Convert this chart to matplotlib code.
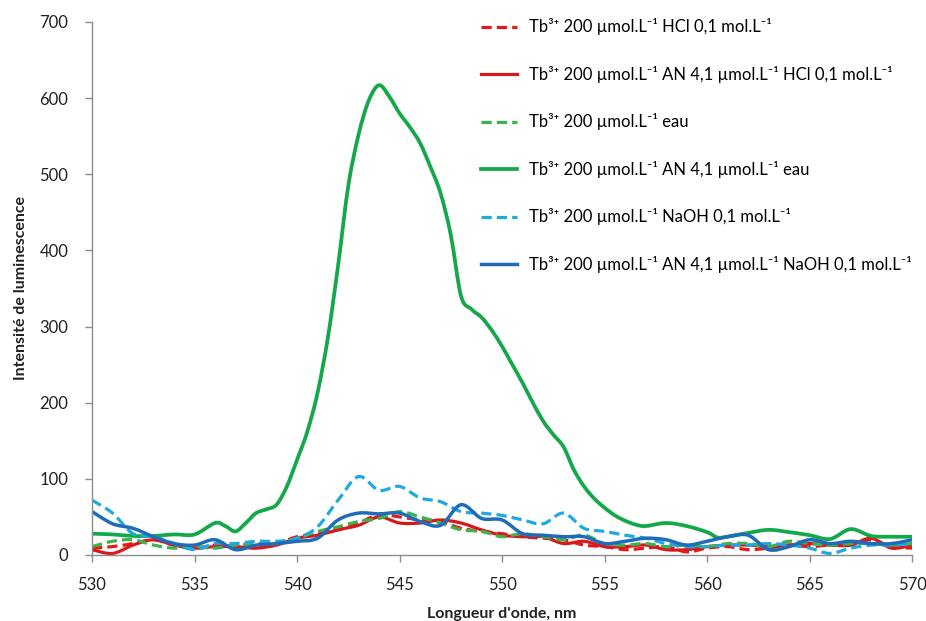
import matplotlib.pyplot as plt
from matplotlib.path import Path
from matplotlib.patches import PathPatch

plt.rcParams['font.family'] = ['Lato', 'DejaVu Sans']

# Longueurs d'onde (nm) et intensités lues pour chaque spectre
wl = list(range(530, 571))

hcl = [9, 11, 15, 20, 13, 9, 13, 11, 11, 15, 24, 28, 33, 42, 53, 50, 46, 44, 35, 31,
       28, 24, 22, 20, 13, 11, 7, 9, 11, 4, 9, 11, 7, 9, 13, 11, 13, 13, 20, 11, 9]
an_hcl = [7, 2, 13, 20, 13, 9, 11, 11, 9, 13, 22, 26, 33, 39, 50, 42, 42, 46, 42, 33,
          26, 24, 24, 15, 18, 11, 11, 13, 7, 7, 11, 13, 13, 11, 13, 15, 13, 13, 22, 9, 13]
eau = [11, 18, 20, 13, 9, 11, 9, 13, 15, 15, 22, 31, 37, 44, 48, 57, 50, 42, 33, 31,
       24, 28, 24, 20, 26, 15, 13, 15, 11, 13, 11, 15, 15, 11, 18, 15, 13, 15, 15, 13, 15]
naoh = [72, 55, 28, 24, 15, 7, 15, 15, 18, 18, 22, 37, 72, 103, 85, 90, 75, 70, 57, 55,
        52, 46, 41, 55, 35, 31, 26, 22, 15, 11, 11, 13, 13, 15, 13, 9, 2, 9, 13, 13, 15]
an_naoh = [57, 41, 35, 24, 15, 13, 20, 7, 13, 15, 18, 22, 46, 55, 54, 55, 44, 39, 66, 48,
           46, 28, 26, 24, 24, 15, 18, 22, 20, 13, 18, 24, 26, 7, 11, 20, 15, 18, 15, 15, 20]

wl_an_eau = [530, 531, 532, 533, 534, 535, 536, 536.5, 537, 537.5, 538, 538.5, 539, 539.5,
             540, 540.5, 541, 541.5, 542, 542.5, 543, 543.5, 544, 544.5, 545, 545.5,
             546, 546.5, 547, 547.5, 548, 548.5, 549, 549.5, 550, 550.5, 551, 551.5,
             552, 552.5, 553, 553.5, 554, 554.5, 555, 555.5, 556, 556.5, 557, 558,
             559, 560, 560.5, 561, 562, 563, 564, 565, 566, 567, 568, 569, 570]
an_eau = [28, 27, 25, 25, 27, 27, 42, 38, 31, 42, 55, 60, 66, 90,
          125, 162, 213, 285, 380, 485, 552, 597, 617, 602, 580, 562,
          541, 510, 475, 420, 340, 323, 312, 295, 274, 250, 226, 200,
          176, 158, 142, 112, 90, 74, 62, 52, 45, 40, 38, 42,
          38, 30, 23, 24, 29, 33, 30, 26, 21, 34, 25, 24, 24]

labels = [
    'Tb³⁺ 200 µmol.L⁻¹ HCl 0,1 mol.L⁻¹',
    'Tb³⁺ 200 µmol.L⁻¹ AN 4,1 µmol.L⁻¹ HCl 0,1 mol.L⁻¹',
    'Tb³⁺ 200 µmol.L⁻¹ eau',
    'Tb³⁺ 200 µmol.L⁻¹ AN 4,1 µmol.L⁻¹ eau',
    'Tb³⁺ 200 µmol.L⁻¹ NaOH 0,1 mol.L⁻¹',
    'Tb³⁺ 200 µmol.L⁻¹ AN 4,1 µmol.L⁻¹ NaOH 0,1 mol.L⁻¹',
]


def smooth_path(xs, ys):
    # courbe lissée façon tableur : Bézier cubiques passant par chaque point
    pts = list(zip(xs, ys))
    n = len(pts)
    verts = [pts[0]]
    codes = [Path.MOVETO]
    for i in range(n - 1):
        p0 = pts[max(i - 1, 0)]
        p1 = pts[i]
        p2 = pts[i + 1]
        p3 = pts[min(i + 2, n - 1)]
        c1 = (p1[0] + (p2[0] - p0[0]) / 6, p1[1] + (p2[1] - p0[1]) / 6)
        c2 = (p2[0] - (p3[0] - p1[0]) / 6, p2[1] - (p3[1] - p1[1]) / 6)
        verts += [c1, c2, p2]
        codes += [Path.CURVE4] * 3
    return Path(verts, codes)


fig = plt.figure(figsize=(9.26, 6.21), dpi=100)
ax = fig.add_axes([0.0994, 0.1063, 0.8856, 0.8583])

dash = (0, (3.2, 1.6))
series = [
    (wl, hcl, '#E31A1C', 2.3, dash),
    (wl, an_hcl, '#D7191C', 2.3, '-'),
    (wl, eau, '#3CB44B', 2.3, dash),
    (wl_an_eau, an_eau, '#14A84A', 2.7, '-'),
    (wl, naoh, '#1FA9E1', 2.3, dash),
    (wl, an_naoh, '#1F6DBA', 2.5, '-'),
]
handles = []
for (xs, ys, col, lw, ls), lab in zip(series, labels):
    ax.add_patch(PathPatch(smooth_path(xs, ys), fill=False, edgecolor=col, lw=lw,
                           linestyle=ls, joinstyle='round', capstyle='butt'))
    h, = ax.plot([], [], color=col, lw=lw, linestyle=ls, label=lab)
    handles.append(h)

ax.set_xlim(530, 570)
ax.set_ylim(0, 700)
ax.set_xticks(range(530, 571, 5))
ax.set_yticks(range(0, 701, 100))

for s in ['top', 'right']:
    ax.spines[s].set_visible(False)
for s in ['left', 'bottom']:
    ax.spines[s].set_color('#8C8C8C')
    ax.spines[s].set_linewidth(1.0)
ax.tick_params(axis='both', colors='#8C8C8C', length=5, width=1.0,
               labelsize=12, labelcolor='#222222', direction='out')
ax.tick_params(axis='x', pad=11)
ax.tick_params(axis='y', pad=12)

ax.set_xlabel("Longueur d'onde, nm", fontsize=11.5, fontweight='bold',
              color='#222222', labelpad=10)
ax.set_ylabel('Intensité de luminescence', fontsize=11.5, fontweight='bold',
              color='#222222', labelpad=8)

fig.legend(handles=handles, loc='upper left', bbox_to_anchor=(0.512, 0.981),
           frameon=False, fontsize=12, handlelength=2.2, handletextpad=0.7,
           labelspacing=1.83, borderaxespad=0)

fig.savefig('out.png', dpi=100)
